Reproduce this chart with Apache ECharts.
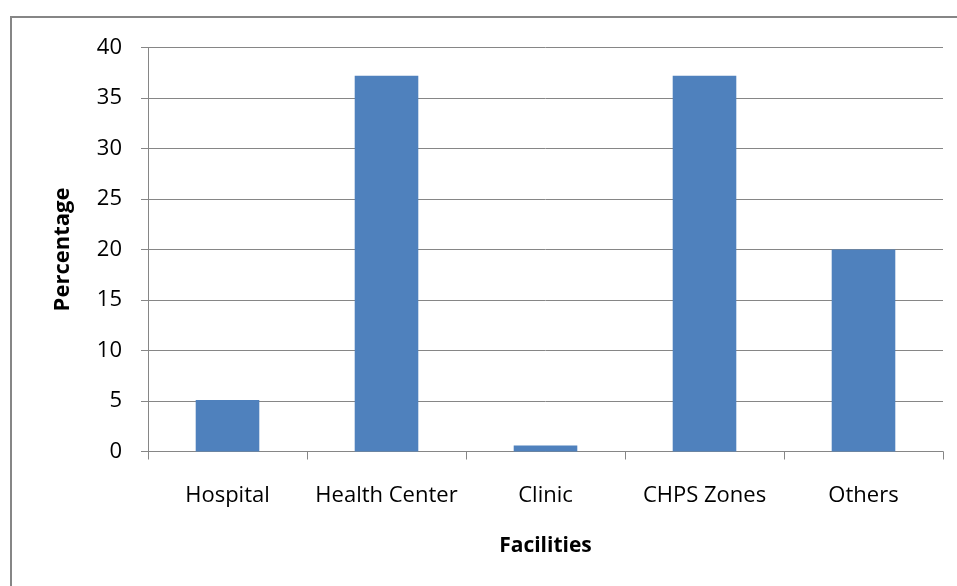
<!DOCTYPE html>
<html>
<head>
<meta charset="utf-8">
<script src="https://cdn.jsdelivr.net/npm/echarts@6/dist/echarts.min.js"></script>
<style>
  html, body { margin: 0; padding: 0; background: #fff; }
  #chart { width: 957px; height: 586px; }
</style>
</head>
<body>
<div id="chart"></div>
<script>
// Share of facilities by type
const categories = ['Hospital', 'Health Center', 'Clinic', 'CHPS Zones', 'Others'];
const percentages = [5.1, 37.2, 0.6, 37.2, 20.0];
const yTicks = { min: 0, max: 40, interval: 5 };

const axisGray = '#868686';
const font = 'Open Sans';

const chart = echarts.init(document.getElementById('chart'), null, { renderer: 'canvas' });
chart.setOption({
  animation: false,
  backgroundColor: '#ffffff',
  graphic: [{
    type: 'rect',
    shape: { x: 11, y: 17, width: 1000, height: 700 },
    style: { fill: 'none', stroke: axisGray, lineWidth: 2 },
    silent: true
  }],
  grid: { left: 148, right: 14, top: 47.5, bottom: 134.5 },
  xAxis: {
    type: 'category',
    data: categories,
    name: 'Facilities',
    nameLocation: 'middle',
    nameGap: 84,
    nameTextStyle: { fontFamily: font, fontSize: 21, fontWeight: 'bold', color: '#000' },
    axisLine: { show: true, lineStyle: { color: axisGray, width: 1 } },
    axisTick: { show: true, length: 8, lineStyle: { color: axisGray } },
    axisLabel: { fontFamily: font, fontSize: 22, color: '#000', margin: 33, interval: 0, hideOverlap: false },
    splitLine: { show: false }
  },
  yAxis: {
    type: 'value',
    min: yTicks.min,
    max: yTicks.max,
    interval: yTicks.interval,
    name: 'Percentage',
    nameLocation: 'middle',
    nameGap: 74,
    nameRotate: 90,
    nameTextStyle: { fontFamily: font, fontSize: 22, fontWeight: 'bold', color: '#000' },
    axisLine: { show: true, lineStyle: { color: axisGray, width: 1 } },
    axisTick: { show: true, length: 7, lineStyle: { color: axisGray } },
    axisLabel: { fontFamily: font, fontSize: 22, color: '#000', margin: 26 },
    splitLine: { show: true, lineStyle: { color: axisGray, width: 1 } }
  },
  series: [{
    type: 'bar',
    data: percentages,
    barWidth: '40%',
    itemStyle: { color: '#4F81BD' }
  }]
});
</script>
</body>
</html>
